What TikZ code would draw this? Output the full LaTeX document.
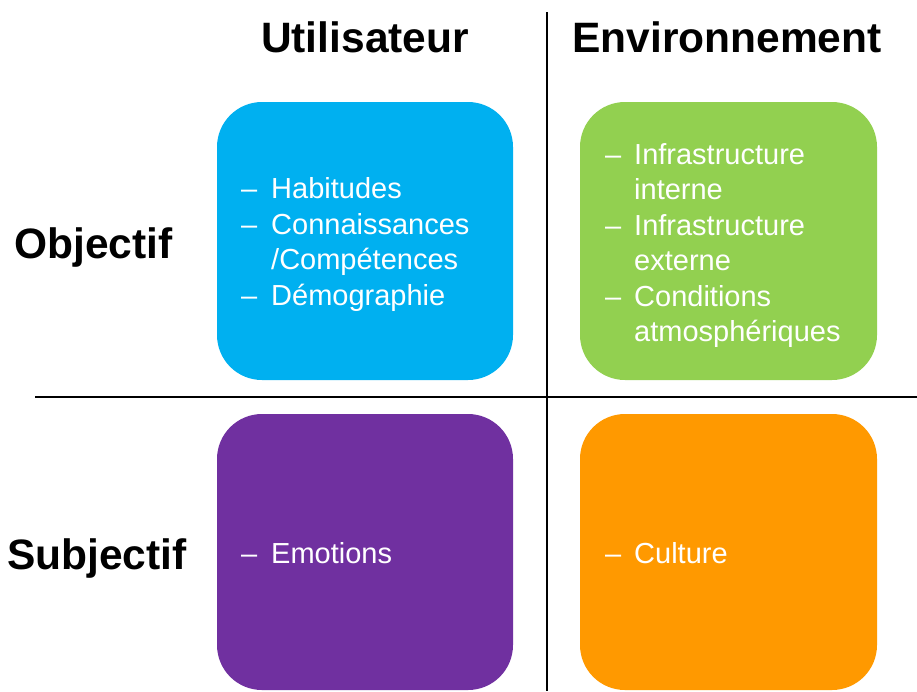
\documentclass[tikz,border=0pt]{standalone}
\usepackage{fontspec}
\setmainfont{Liberation Sans}
\definecolor{cblue}{HTML}{00B0F0}
\definecolor{cgreen}{HTML}{92D050}
\definecolor{cpurple}{HTML}{7030A0}
\definecolor{corange}{HTML}{FF9900}
\begin{document}
\begin{tikzpicture}[x=1pt,y=-1pt,
  card/.style={rounded corners=45pt},
  head/.style={font=\fontsize{42.5}{48}\selectfont\bfseries, inner sep=0pt, anchor=base},
  item/.style={font=\fontsize{29}{35}\selectfont, text=white, inner sep=0pt, anchor=base west},
  divider/.style={line width=2pt, black}]
\useasboundingbox (0,0) rectangle (917,691);
% boxes
\fill[cblue, card] (217,102) rectangle (513,380);
\fill[cgreen, card] (580,102) rectangle (877,380);
\fill[cpurple, card] (217,414) rectangle (513,690);
\fill[corange, card] (580,414) rectangle (877,690);
% dividers
\coordinate (vtop) at (547,12);
\coordinate (vbot) at (547,691);
\coordinate (hl) at (35,397);
\coordinate (hr) at (917,397);
\draw[divider] (vtop) -- (vbot);
\draw[divider] (hl) -- (hr);
% headings
\node[head] (util) at (365,52) {Utilisateur};
\node[head] (env) at (727,52) {Environnement};
\node[head, anchor=base west] (obj) at (14,258) {Objectif};
\node[head, anchor=base west] (subj) at (7,569) {Subjectif};
% blue items
\node[item] (bd1) at (241,198) {–};
\node[item] (b1) at (271,198) {Habitudes};
\node[item] (bd2) at (241,234) {–};
\node[item] (b2) at (271,234) {Connaissances};
\node[item] (b3) at (271,269.5) {/Compétences};
\node[item] (bd4) at (241,305) {–};
\node[item] (b4) at (271,305) {Démographie};
% green items
\node[item] (gd1) at (605,164) {–};
\node[item] (g1) at (634,164) {Infrastructure};
\node[item] (g2) at (634,199.5) {interne};
\node[item] (gd3) at (605,235) {–};
\node[item] (g3) at (634,235) {Infrastructure};
\node[item] (g4) at (634,270.5) {externe};
\node[item] (gd5) at (605,306) {–};
\node[item] (g5) at (634,306) {Conditions};
\node[item] (g6) at (634,341.5) {atmosphériques};
% purple / orange
\node[item] (pd1) at (241,563) {–};
\node[item] (p1) at (271,563) {Emotions};
\node[item] (od1) at (605,563) {–};
\node[item] (o1) at (634,563) {Culture};
\end{tikzpicture}
\end{document}
